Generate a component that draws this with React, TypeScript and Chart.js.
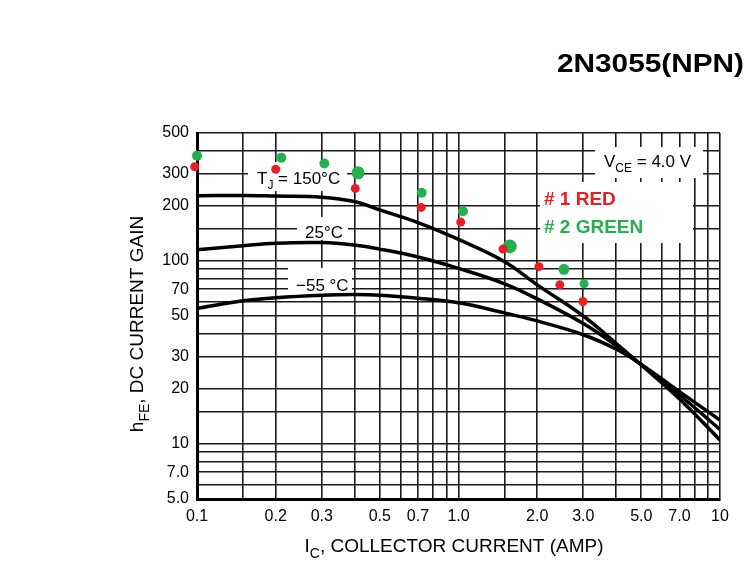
import React, { useEffect, useRef } from "react";
import { Chart, registerables } from "chart.js";

Chart.register(...registerables);

const FONT = '"Liberation Sans", Arial, Helvetica, sans-serif';

// collector current (A) where the three curves were read
const currents = [0.1, 0.15, 0.2, 0.3, 0.4, 0.5, 0.7, 1.0, 1.5, 2.0, 3.0, 4.0, 5.0, 7.0, 10];
const gain150 = [227, 228, 226, 223, 211, 190, 162, 131, 99, 74, 50, 35.5, 27, 17.6, 10.5];
const gain25 = [115, 121, 125, 126, 122, 116, 105, 91, 75, 62, 45.5, 34.5, 27, 18.5, 12];
const gainMinus55 = [55, 60.5, 63, 65, 65.5, 65, 62.5, 59, 52, 47, 39.5, 33, 27.2, 19.3, 13.5];

// measured samples
const redCurrents = [0.098, 0.2, 0.403, 0.72, 1.02, 1.48, 2.03, 2.44, 2.99];
const redGains = [327, 317, 249, 196, 163, 116, 93, 74, 60];
const greenCurrents = [0.1, 0.21, 0.307, 0.413, 0.723, 1.04, 1.57, 2.53, 3.02];
const greenGains = [376, 366, 341, 303, 236, 187, 120, 90, 75];
const greenSizes = [5, 5, 5, 6.5, 5, 5, 7, 5.5, 4.5];

const xGrid = [0.1, 0.15, 0.2, 0.3, 0.4, 0.5, 0.6, 0.7, 0.8, 0.9, 1, 1.5, 2, 3, 4, 5, 6, 7, 8, 9, 10];
const xLabels = [0.1, 0.2, 0.3, 0.5, 0.7, 1, 2, 3, 5, 7, 10];
const yGrid = [5, 6, 7, 8, 9, 10, 15, 20, 30, 40, 50, 60, 70, 80, 90, 100, 150, 200, 300, 400, 500];
const yLabels = [5, 7, 10, 20, 30, 50, 70, 100, 200, 300, 500];

const fmt = (v: number) => (v < 1 ? String(v) : v < 10 ? v.toFixed(1) : String(v));

type Part = { text: string; sub?: boolean };

function drawRich(ctx: CanvasRenderingContext2D, parts: Part[], x: number, y: number, size: number, align = "left") {
  const main = `${size}px ${FONT}`;
  const small = `${Math.round(size * 0.72)}px ${FONT}`;
  let w = 0;
  parts.forEach((p) => {
    ctx.font = p.sub ? small : main;
    w += ctx.measureText(p.text).width;
  });
  let cx = align === "center" ? x - w / 2 : x;
  parts.forEach((p) => {
    ctx.font = p.sub ? small : main;
    ctx.fillText(p.text, cx, p.sub ? y + size * 0.3 : y);
    cx += ctx.measureText(p.text).width;
  });
}

const labelsPlugin = {
  id: "labels",
  beforeDatasetsDraw(chart: any) {
    const ctx: CanvasRenderingContext2D = chart.ctx;
    ctx.save();
    ctx.fillStyle = "#fff";
    ctx.fillRect(248, 162, 99, 29);
    ctx.fillRect(297, 217, 51, 23);
    ctx.fillRect(288, 268, 64, 26);
    ctx.fillRect(595, 147, 108, 31);
    ctx.fillRect(540, 182, 153, 61);

    ctx.textAlign = "left";
    ctx.textBaseline = "alphabetic";
    ctx.fillStyle = "#000";
    drawRich(ctx, [{ text: "T" }, { text: "J", sub: true }, { text: " = 150°C" }], 257, 184, 17);
    drawRich(ctx, [{ text: "25°C" }], 305, 238, 17);
    drawRich(ctx, [{ text: "−55 °C" }], 296, 291, 17);
    drawRich(ctx, [{ text: "V" }, { text: "CE", sub: true }, { text: " = 4.0 V" }], 604, 167, 17);

    ctx.font = `bold 19px ${FONT}`;
    ctx.fillStyle = "#ED1C24";
    ctx.fillText("# 1 RED", 544, 205);
    ctx.fillStyle = "#22B14C";
    ctx.fillText("# 2 GREEN", 544, 233);
    ctx.restore();
  },
  afterDraw(chart: any) {
    const ctx: CanvasRenderingContext2D = chart.ctx;
    ctx.save();
    ctx.fillStyle = "#000";
    ctx.textAlign = "left";
    ctx.textBaseline = "alphabetic";

    // the chart title is set wide in the sheet
    ctx.save();
    ctx.font = `bold 26px ${FONT}`;
    const tw = ctx.measureText("2N3055(NPN)").width;
    ctx.translate(557, 72);
    ctx.scale(187 / tw, 1);
    ctx.fillText("2N3055(NPN)", 0, 0);
    ctx.restore();

    drawRich(ctx, [{ text: "I" }, { text: "C", sub: true }, { text: ", COLLECTOR CURRENT (AMP)" }], 454, 552, 19, "center");

    ctx.translate(143, 324);
    ctx.rotate(-Math.PI / 2);
    drawRich(ctx, [{ text: "h" }, { text: "FE", sub: true }, { text: ", DC CURRENT GAIN" }], 0, 0, 19, "center");
    ctx.restore();
  },
};

export default function App() {
  const canvasRef = useRef<HTMLCanvasElement>(null);

  useEffect(() => {
    if (!canvasRef.current) return;
    const line = (gains: number[]) => ({
      type: "line" as const,
      data: currents.map((c, i) => ({ x: c, y: gains[i] })),
      borderColor: "#000",
      borderWidth: 3.5,
      pointRadius: 0,
      tension: 0.4,
      showLine: true,
    });

    const chart = new Chart(canvasRef.current, {
      type: "scatter",
      data: {
        datasets: [
          line(gain150),
          line(gain25),
          line(gainMinus55),
          {
            data: redCurrents.map((c, i) => ({ x: c, y: redGains[i] })),
            backgroundColor: "#ED1C24",
            borderWidth: 0,
            pointRadius: 4.5,
            clip: false,
          },
          {
            data: greenCurrents.map((c, i) => ({ x: c, y: greenGains[i] })),
            backgroundColor: "#22B14C",
            borderWidth: 0,
            pointRadius: greenSizes,
            clip: false,
          },
        ],
      },
      options: {
        animation: false,
        responsive: false,
        layout: { padding: { top: 133, right: 29, left: 0, bottom: 0 } },
        plugins: { legend: { display: false }, tooltip: { enabled: false } },
        scales: {
          x: {
            type: "logarithmic",
            min: 0.1,
            max: 10,
            afterBuildTicks: (scale: any) => {
              scale.ticks = xGrid.map((v) => ({ value: v }));
            },
            afterFit: (scale: any) => {
              scale.height = 67;
            },
            grid: { color: "#1a1a1a", lineWidth: 1.6, drawTicks: false },
            border: { color: "#000", width: 3 },
            ticks: {
              autoSkip: false,
              maxRotation: 0,
              padding: 8,
              color: "#000",
              font: { family: FONT, size: 16 },
              callback: (v: any) => (xLabels.includes(Number(v)) ? fmt(Number(v)) : ""),
            },
          },
          y: {
            type: "logarithmic",
            min: 5,
            max: 500,
            afterBuildTicks: (scale: any) => {
              scale.ticks = yGrid.map((v) => ({ value: v }));
            },
            afterFit: (scale: any) => {
              scale.width = 197;
            },
            grid: { color: "#1a1a1a", lineWidth: 1.6, drawTicks: false },
            border: { color: "#000", width: 3 },
            ticks: {
              autoSkip: false,
              padding: 8,
              color: "#000",
              font: { family: FONT, size: 16 },
              callback: (v: any) => (yLabels.includes(Number(v)) ? fmt(Number(v)) : ""),
            },
          },
        },
      },
      plugins: [labelsPlugin],
    });

    return () => chart.destroy();
  }, []);

  return (
    <div style={{ position: "absolute", left: 0, top: 0, width: 749, height: 566, background: "#fff" }}>
      <canvas ref={canvasRef} width={749} height={566} />
    </div>
  );
}
